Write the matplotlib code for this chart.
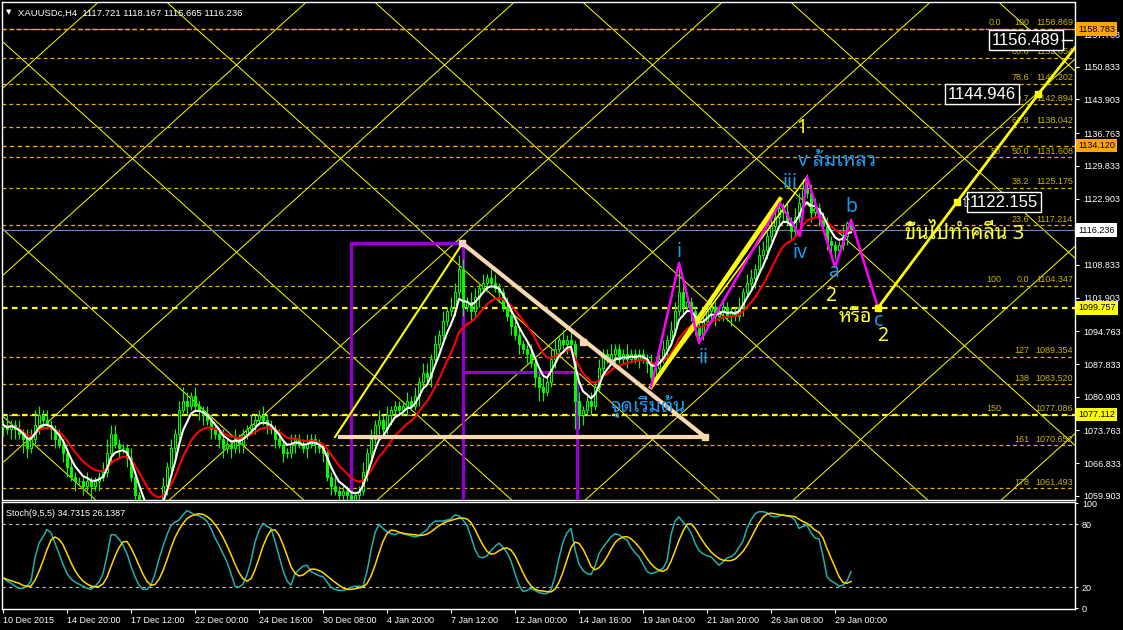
import numpy as np
import pandas as pd
import matplotlib
matplotlib.use('Agg')
from matplotlib import pyplot as plt

# candles (H4, bar 0 = 10 Dec 2015)
first_open = 1074.5
closes = [
    1075, 1074, 1075, 1074, 1073, 1072, 1070, 1072, 1075, 1077,
    1076, 1075, 1074, 1072, 1071, 1069, 1066, 1064, 1063, 1063,
    1062, 1063, 1062, 1063, 1064, 1065, 1069, 1073, 1071, 1070,
    1070, 1068, 1064, 1060, 1057, 1055, 1053, 1054, 1056, 1058,
    1062, 1066, 1070, 1073, 1078, 1080, 1079, 1081, 1079, 1078,
    1077, 1076, 1074, 1073, 1072, 1070, 1071, 1070, 1072, 1071,
    1073, 1074, 1075, 1076, 1077, 1076, 1075, 1074, 1072, 1071,
    1069, 1069, 1071, 1072, 1071, 1070, 1071, 1072, 1071, 1070,
    1069, 1064, 1062, 1061, 1060, 1061, 1060, 1059, 1060, 1061,
    1065, 1069, 1072, 1075, 1076, 1074, 1077, 1078, 1079, 1078,
    1079, 1080, 1079, 1081, 1084, 1086, 1085, 1089, 1092, 1094,
    1097, 1099, 1100, 1103, 1108, 1100, 1101, 1099, 1102, 1104,
    1105, 1106, 1105, 1104, 1103, 1100, 1098, 1096, 1094, 1092,
    1091, 1090, 1088, 1085, 1083, 1082, 1084, 1089, 1091, 1093,
    1092, 1093, 1092, 1080, 1077, 1078, 1080, 1079, 1083, 1087,
    1090, 1089, 1090, 1091, 1089, 1090, 1089, 1090, 1089, 1090,
    1089, 1088, 1085, 1087, 1089, 1091, 1093, 1095, 1099, 1103,
    1100, 1101, 1099, 1096, 1094, 1097, 1099, 1100, 1098, 1099,
    1100, 1098, 1099, 1098, 1100, 1103, 1105, 1106, 1108, 1111,
    1112, 1115, 1117, 1119, 1121, 1120, 1118, 1116, 1119, 1122,
    1125, 1124, 1120, 1121, 1119, 1117, 1114, 1113, 1112, 1113,
    1115, 1117.721, 1116.236,
]
wick_up = [
    1, 2, 1, 1, 2, 1, 2, 2, 3, 2,
    1, 2, 1, 1, 2, 1, 1, 2, 1, 1,
    1, 2, 1, 1, 1, 2, 3, 2, 2, 1,
    1, 1, 2, 1, 1, 1, 1, 1, 2, 1,
    2, 1, 2, 1, 2, 3, 2, 1, 2, 1,
    1, 2, 1, 1, 1, 2, 1, 1, 2, 1,
    1, 1, 2, 1, 1, 2, 1, 1, 1, 2,
    1, 1, 2, 1, 1, 1, 2, 1, 1, 1,
    1, 1, 1, 2, 1, 1, 1, 1, 1, 1,
    2, 1, 2, 1, 2, 1, 2, 1, 1, 1,
    1, 2, 1, 2, 1, 2, 2, 1, 2, 1,
    2, 1, 2, 2, 3, 2, 1, 2, 2, 1,
    2, 1, 2, 2, 1, 1, 2, 1, 1, 2,
    1, 1, 2, 1, 1, 2, 1, 2, 2, 1,
    2, 1, 2, 1, 2, 1, 1, 2, 1, 2,
    1, 1, 2, 1, 1, 1, 2, 1, 1, 1,
    1, 1, 2, 1, 1, 2, 1, 2, 2, 6,
    2, 2, 1, 1, 1, 1, 2, 1, 1, 1,
    1, 1, 1, 1, 2, 1, 2, 2, 1, 2,
    2, 1, 2, 2, 2, 1, 2, 1, 2, 2,
    2, 3, 2, 2, 1, 1, 2, 1, 1, 1,
    2, 0.4, 1,
]
wick_dn = [
    2, 1, 2, 2, 1, 3, 2, 1, 1, 2,
    2, 1, 2, 2, 1, 2, 2, 1, 2, 1,
    2, 1, 3, 1, 2, 1, 1, 2, 1, 2,
    1, 2, 1, 2, 1, 1, 2, 2, 1, 2,
    1, 2, 1, 2, 1, 1, 2, 1, 1, 2,
    2, 1, 2, 1, 2, 2, 1, 2, 1, 2,
    2, 1, 1, 2, 1, 1, 2, 1, 2, 1,
    2, 1, 1, 2, 1, 1, 2, 1, 2, 1,
    2, 1, 2, 1, 1, 2, 1, 1, 2, 1,
    1, 2, 1, 1, 2, 1, 1, 2, 1, 1,
    1, 2, 1, 1, 2, 1, 1, 2, 1, 1,
    2, 1, 1, 2, 1, 2, 1, 2, 1, 2,
    1, 2, 1, 1, 2, 1, 1, 2, 1, 2,
    1, 2, 1, 2, 3, 2, 1, 1, 2, 1,
    1, 2, 1, 6, 3, 2, 1, 2, 1, 1,
    2, 1, 1, 2, 1, 1, 2, 1, 1, 2,
    1, 2, 2, 1, 1, 1, 2, 1, 1, 1,
    2, 1, 2, 2, 2, 1, 1, 2, 2, 1,
    2, 1, 2, 1, 1, 2, 1, 1, 2, 1,
    1, 2, 1, 1, 2, 2, 1, 2, 1, 1,
    1, 1, 2, 1, 2, 1, 2, 3, 2, 1,
    1, 2, 0.6,
]
# stochastic %K (signal = 5 bar average of it)
stoch_main = [
    29, 26, 24, 21, 19, 19, 21, 26, 48, 62,
    68, 75, 72, 62, 52, 42, 33, 28, 25, 23,
    21, 19, 18, 21, 25, 33, 50, 70, 70, 66,
    60, 52, 40, 30, 22, 18, 18, 22, 33, 47,
    59, 70, 79, 82, 84, 89, 93, 91, 89, 88,
    86, 83, 76, 67, 60, 52, 44, 33, 21, 20,
    23, 32, 45, 63, 74, 81, 78, 76, 64, 50,
    36, 26, 22, 33, 37, 40, 41, 35, 33, 31,
    30, 25, 20, 18, 17, 17, 18, 20, 21, 21,
    21, 35, 55, 72, 80, 76, 73, 71, 70, 72,
    71, 70, 69, 68, 69, 72, 75, 80, 83, 83,
    83, 84, 85, 89, 88, 84, 79, 68, 56, 49,
    48, 50, 55, 59, 62, 58, 53, 45, 33, 22,
    16, 17, 19, 17, 15, 14, 14, 18, 30, 48,
    63, 72, 76, 56, 42, 36, 33, 32, 40, 52,
    58, 63, 68, 71, 70, 67, 65, 58, 53, 49,
    42, 35, 33, 34, 36, 38, 45, 70, 83, 87,
    82, 78, 72, 62, 55, 52, 50, 49, 45, 41,
    44, 48, 49, 52, 58, 64, 76, 84, 90, 92,
    92, 91, 88, 87, 88, 89, 88, 87, 84, 76,
    78, 79, 72, 67, 66, 50, 30, 26, 24, 21,
    22, 26, 34.7315,
]
date_labels = ['10 Dec 2015', '14 Dec 20:00', '17 Dec 12:00', '22 Dec 00:00',
               '24 Dec 16:00', '30 Dec 08:00', '4 Jan 20:00', '7 Jan 12:00',
               '12 Jan 00:00', '14 Jan 16:00', '19 Jan 04:00', '21 Jan 20:00',
               '26 Jan 08:00', '29 Jan 00:00']
price_ticks = [1157.763, 1150.833, 1143.903, 1136.763, 1129.833, 1122.903,
               1108.833, 1101.903, 1094.763, 1087.833, 1080.903, 1073.763,
               1066.833, 1059.903]
# fibonacci: (price, level text, second level text)
fib_levels = [
    (1158.869, '100', '0.0'), (1152.654, '88.6', ''), (1147.202, '78.6', ''),
    (1142.894, '70.7', ''), (1138.042, '61.8', ''), (1131.608, '50.0', '50'),
    (1125.175, '38.2', ''), (1117.214, '23.6', ''), (1104.347, '0.0', '100'),
    (1089.354, '127', ''), (1083.520, '138', ''), (1077.086, '', '150'),
    (1070.652, '161', ''), (1061.493, '178', ''),
]
orange_lines = [1158.783, 1134.120]
yellow_lines = [1099.757, 1077.112]
last_price = 1116.236

# drawn objects (bar index, price)
wave_x = [162, 169, 174, 194.25, 199.25, 201, 208, 212, 218.75]
wave_y = [1082.97, 1109.25, 1092.3, 1121.96, 1114.97, 1127.47, 1108.4, 1118.36, 1099.757]
proj_x = [218.75, 238.5, 258.75]
proj_y = [1099.757, 1122.155, 1144.946]
tri_x = [114.75, 175.5, 83.75]
tri_y = [1113.48, 1072.38, 1072.38]

W, H = 1123, 630
fig = plt.figure(figsize=(W / 100, H / 100), dpi=100, facecolor='black')


def box(x0, y0, x1, y1):
    return [x0 / W, 1 - y1 / H, (x1 - x0) / W, (y1 - y0) / H]


def bx(px):
    # screen pixel -> bar index
    return (px - 3) / 4.0


ax = fig.add_axes(box(2, 2, 1075, 500))
ax2 = fig.add_axes(box(2, 502, 1075, 609))
for a in (ax, ax2):
    a.set_facecolor('black')
    for s in a.spines.values():
        s.set_color('white')
        s.set_linewidth(1)
    a.set_xlim(-0.25, 268)
ax.set_ylim(1059.035, 1164.543)
ax2.set_ylim(-0.7, 101.2)

font = 'Liberation Sans'
n = len(closes)
x = np.arange(n)
c = np.array(closes, dtype=float)
o = np.r_[first_open, c[:-1]]
hi = np.maximum(o, c) + np.array(wick_up)
lo = np.minimum(o, c) - np.array(wick_dn)

# gann grid
for k in range(-4, 9):
    b1 = 23.5 + 52 * k
    b2 = 41.25 + 52 * k
    xs = np.array([-20, 300])
    ax.plot(xs, 1164.27 + 0.763 * (xs - b1), color='#FFFF00', lw=0.7, zorder=1)
    ax.plot(xs, 1164.27 - 0.763 * (xs - b2), color='#FFFF00', lw=0.7, zorder=1)

# horizontal levels
for p, lv, lv2 in fib_levels:
    ax.axhline(p, color='#E8B000', lw=0.9, ls=(0, (3, 2.5)), zorder=2)
    ax.text(bx(1073), p + 0.35, '%.3f' % p, color='#C8B400', fontsize=6.5,
            family=font, ha='right', va='bottom', zorder=3)
    if lv:
        ax.text(bx(1029), p + 0.35, lv, color='#C8B400', fontsize=6.5,
                family=font, ha='right', va='bottom', zorder=3)
    if lv2:
        ax.text(bx(1001), p + 0.35, lv2, color='#C8B400', fontsize=6.5,
                family=font, ha='right', va='bottom', zorder=3)
for p in orange_lines:
    ax.axhline(p, color='#FFA500', lw=1, ls=(0, (3, 2.5)), zorder=2)
for p in yellow_lines:
    ax.axhline(p, color='#FFFF00', lw=1.6, ls=(0, (2.5, 2)), zorder=2)
ax.axhline(last_price, color='#778899', lw=0.8, zorder=2)

# purple boxes
ax.plot([87, 87, 114.9, 114.9], [1040, 1113.42, 1113.42, 1040], color='#9400D3', lw=2.3, zorder=3)
ax.plot([114.9, 143.5, 143.5], [1086.09, 1086.09, 1040], color='#9400D3', lw=2.3, zorder=3)

# candles
up = c >= o
ax.vlines(x, lo, hi, color='#00FF00', lw=0.8, zorder=4)
ax.bar(x, np.maximum(np.abs(c - o), 0.15), bottom=np.minimum(o, c), width=0.55,
       color=np.where(up, 'black', '#00FF00'), edgecolor='#00FF00', lw=0.7, zorder=5)

# moving averages
ma_fast = pd.Series(c).ewm(span=5).mean()
ma_slow = pd.Series(c).ewm(span=12).mean()
ax.plot(x, ma_slow, color='#FF0000', lw=1.5, zorder=6)
ax.plot(x, ma_fast, color='white', lw=1.5, zorder=7)

# trend lines, triangle, waves
ax.plot([83, 114.75], [1072.38, 1113.27], color='#FFFF00', lw=1.5, zorder=8)
ax.plot(tri_x, tri_y, color='#F8D8B0', lw=3, zorder=8, solid_capstyle='butt')
ax.plot([114.75, 145, 175.5], [1113.48, 1092.51, 1072.38], ls='none', marker='s',
        ms=5, color='#F8D8B0', zorder=9)
ax.plot([162, 194.25], [1082.97, 1122.8], color='#FFFF00', lw=3, zorder=8)
ax.plot([162, 193.5], [1082.97, 1121.3], color='#FFFF00', lw=2.2, zorder=8)
ax.plot([162, 201], [1082.97, 1127.47], color='#FFFF00', lw=1.2, zorder=8)
ax.plot(wave_x, wave_y, color='#FF00FF', lw=1.8, zorder=9)
ax.plot(proj_x + [269.5], proj_y + [1156.489], color='#FFFF00', lw=2, zorder=9)
ax.plot(proj_x, proj_y, ls='none', marker='s', ms=4.5, color='#FFFF00', zorder=10)

# price boxes in chart
boxed = dict(boxstyle='square,pad=0.15', fc='black', ec='white', lw=1)
ax.text(bx(1026), 1156.489, '1156.489', color='white', fontsize=12, family=font,
        ha='center', va='center', bbox=boxed, zorder=11)
ax.plot([bx(1062), bx(1072)], [1156.489, 1156.489], color='white', lw=1, zorder=11)
ax.text(bx(982), 1144.946, '1144.946', color='white', fontsize=12, family=font,
        ha='center', va='center', bbox=boxed, zorder=11)
ax.text(bx(1004), 1122.155, '1122.155', color='white', fontsize=12, family=font,
        ha='center', va='center', bbox=boxed, zorder=11)
ax.text(bx(966), 1122.155, '\u21e7', color='white', fontsize=11, family='DejaVu Sans',
        ha='center', va='center', zorder=11)

# wave labels
blue = '#1E9BE8'
yel = '#FFFF33'
tfam = ['Noto Sans Thai Looped', 'DejaVu Sans']
labels = [
    (199.75, 1137.85, '1', yel, 'center', 14), (198.75, 1130.86, 'v ล้มเหลว', blue, 'left', 14),
    (196.75, 1126.2, 'iii', blue, 'center', 14), (199.25, 1111.36, 'iv', blue, 'center', 14),
    (212, 1121.1, 'b', blue, 'center', 14), (207.75, 1107.34, 'a', blue, 'center', 14),
    (207, 1102.26, '2', yel, 'center', 14), (213, 1097.8, 'หรือ', yel, 'center', 14),
    (219, 1096.96, 'c', blue, 'center', 14), (220, 1093.8, '2', yel, 'center', 14),
    (225.5, 1115.39, 'ขึ้นไปทำคลื่น 3', yel, 'left', 14.5), (169, 1111.58, 'i', blue, 'center', 14),
    (175.25, 1089.1, 'ii', blue, 'center', 14), (151.75, 1078.95, 'จุดเริ่มต้น', blue, 'left', 14),
]
for lx, ly, t, col, ha, fs in labels:
    ax.text(lx, ly, t, color=col, fontsize=fs, family=tfam, ha=ha, va='center', zorder=12)

# right price scale
ax.yaxis.tick_right()
ax.set_yticks(price_ticks)
ax.set_yticklabels(['%.3f' % v for v in price_ticks], family=font)
ax.tick_params(axis='y', colors='white', labelsize=6.5, length=3, pad=3)
ax.set_xticks([])
tags = [(1158.783, '#FFA500'), (1134.120, '#FFA500'), (last_price, 'white'),
        (1099.757, '#FFFF00'), (1077.112, '#FFFF00')]
for p, col in tags:
    ax.text(bx(1078), p, '%.3f' % p, color='black', fontsize=6.5, family=font,
            ha='left', va='center', clip_on=False, zorder=20,
            bbox=dict(boxstyle='square,pad=0.25', fc=col, ec='none'))

ax.text(0.004, 0.985, '\u25bc', transform=ax.transAxes, color='white', fontsize=5,
        family='DejaVu Sans', va='top')
ax.text(0.015, 0.987, 'XAUUSDc,H4  1117.721 1118.167 1115.665 1116.236',
        transform=ax.transAxes, color='white', fontsize=6.8, family=font, va='top')

# stochastic panel
sm = pd.Series(stoch_main)
sig = sm.rolling(5, min_periods=1).mean()
for lv in (20, 80):
    ax2.axhline(lv, color='#C0C0C0', lw=0.8, ls=(0, (3, 3)))
ax2.plot(x, sm, color='#20B2AA', lw=1.1)
ax2.plot(x, sig, color='#FFD700', lw=1.1)
ax2.text(0.004, 0.93, 'Stoch(9,5,5) 34.7315 26.1387', transform=ax2.transAxes,
         color='white', fontsize=6.5, family=font, va='top')
ax2.yaxis.tick_right()
ax2.set_yticks([0, 20, 80, 100])
ax2.set_yticklabels(['0', '20', '80', '100'], family=font)
ax2.tick_params(axis='y', colors='white', labelsize=6.5, length=2, pad=3)
ax2.set_xticks(np.arange(len(date_labels)) * 16)
ax2.set_xticklabels(date_labels, family=font, ha='left')
ax2.tick_params(axis='x', colors='white', labelsize=6.5, length=3, pad=2)

fig.savefig('out.png', dpi=100, facecolor='black')
